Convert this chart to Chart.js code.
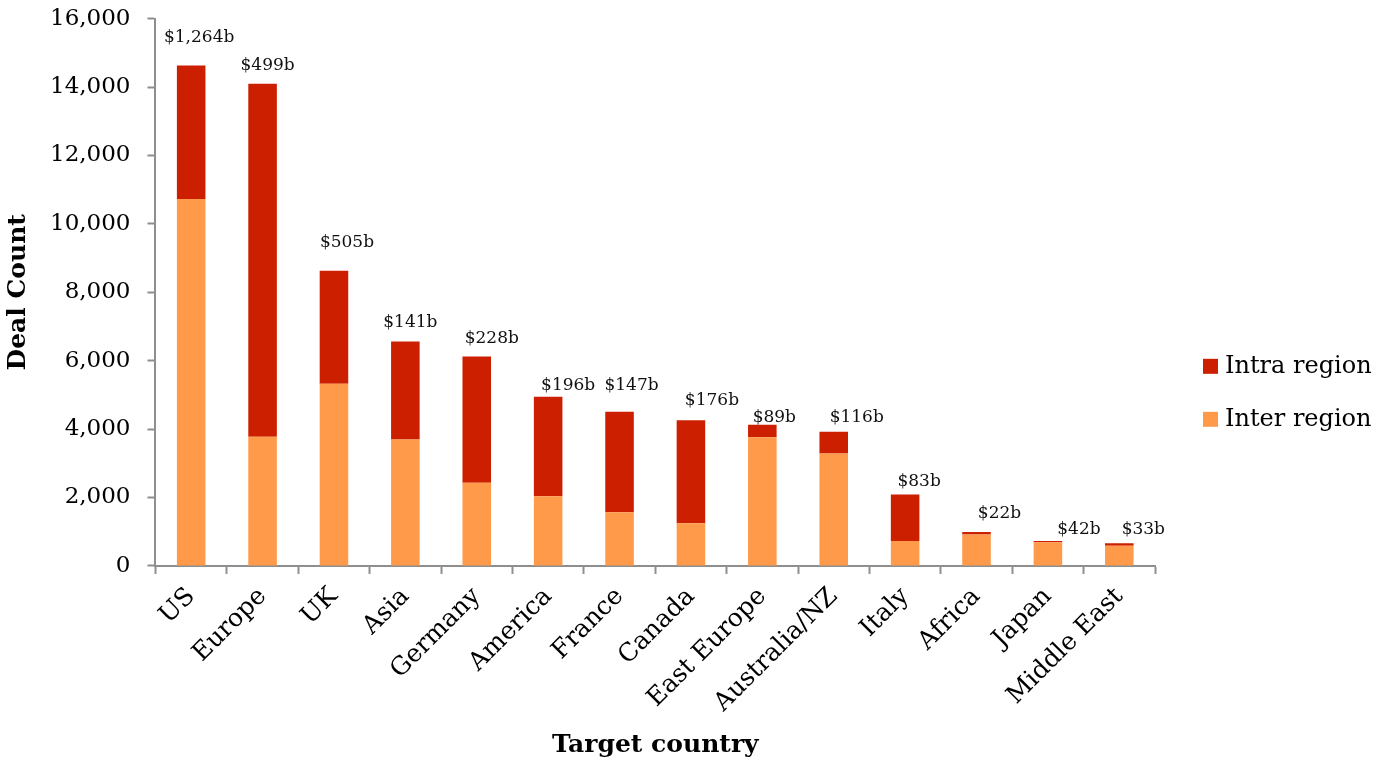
<!DOCTYPE html>
<html>
<head>
<meta charset="utf-8">
<title>Deal count by target country</title>
<script src="https://cdn.jsdelivr.net/npm/chart.js@4.4.1/dist/chart.umd.min.js"></script>
<style>
  html, body { margin: 0; padding: 0; background: #fff; }
  #wrap { width: 1375px; height: 760px; position: relative; }
</style>
</head>
<body>
<div id="wrap"><canvas id="dealChart"></canvas></div>
<script>
// deal counts per target country, split by inter / intra region
const countries = ['US', 'Europe', 'UK', 'Asia', 'Germany', 'America', 'France', 'Canada',
                   'East Europe', 'Australia/NZ', 'Italy', 'Africa', 'Japan', 'Middle East'];
const interRegion = [10730, 3780, 5330, 3700, 2430, 2040, 1570, 1250, 3760, 3290, 730, 920, 690, 590];
const intraRegion = [3900, 10320, 3300, 2860, 3690, 2910, 2940, 3010, 370, 630, 1360, 70, 40, 70];
const dealValues = ['$1,264b', '$499b', '$505b', '$141b', '$228b', '$196b', '$147b', '$176b',
                    '$89b', '$116b', '$83b', '$22b', '$42b', '$33b'];
const yTicks = [0, 2000, 4000, 6000, 8000, 10000, 12000, 14000, 16000];

// hand placement of the value labels above each bar (px)
const labelShift = [8, 5, 13, 5, 15, 20, 12, 21, 12, 23, 14, 23, 31, 24];
const labelGap = [24, 14, 24, 15, 14, 7, 22, 15, 3, 10, 8, 14, 7, 9];

const FONT = "'DejaVu Serif', 'Liberation Serif', serif";
const axisGrey = '#8e8e8e';

const valueLabels = {
    id: 'valueLabels',
    afterDatasetsDraw(chart) {
        const ctx = chart.ctx;
        const top = chart.getDatasetMeta(1).data;
        ctx.save();
        ctx.font = '17px ' + FONT;
        ctx.fillStyle = '#111';
        ctx.textAlign = 'center';
        ctx.textBaseline = 'alphabetic';
        top.forEach((bar, i) => {
            ctx.fillText(dealValues[i], bar.x + labelShift[i], bar.y - labelGap[i]);
        });
        ctx.restore();
    }
};

// legend to the right of the plot, top dataset listed first
const sideLegend = {
    id: 'sideLegend',
    afterDraw(chart) {
        const ctx = chart.ctx;
        const area = chart.chartArea;
        const x = area.right + 48;
        const mid = (area.top + area.bottom) / 2 + 101;
        const items = chart.data.datasets.slice().reverse();
        ctx.save();
        ctx.font = '24px ' + FONT;
        ctx.textBaseline = 'middle';
        ctx.textAlign = 'left';
        items.forEach((ds, i) => {
            const y = mid + (i - 0.5) * 53;
            ctx.fillStyle = ds.backgroundColor;
            ctx.fillRect(x, y - 8, 15, 15);
            ctx.fillStyle = '#000';
            ctx.fillText(ds.label, x + 22, y);
        });
        ctx.restore();
    }
};

new Chart(document.getElementById('dealChart'), {
    type: 'bar',
    data: {
        labels: countries,
        datasets: [
            { label: 'Inter region', data: interRegion, backgroundColor: '#ff9a4a', stack: 's' },
            { label: 'Intra region', data: intraRegion, backgroundColor: '#cc1f00', stack: 's' }
        ]
    },
    options: {
        responsive: true,
        maintainAspectRatio: false,
        animation: false,
        layout: { padding: { top: 0, left: 3, right: 220, bottom: 0 } },
        datasets: { bar: { categoryPercentage: 1, barPercentage: 0.4 } },
        scales: {
            x: {
                stacked: true,
                grid: { display: true, drawOnChartArea: false, drawTicks: true, tickLength: 8,
                        tickWidth: 2, color: axisGrey, offset: true },
                border: { display: true, color: axisGrey, width: 2 },
                ticks: { color: '#000', font: { family: FONT, size: 25 }, maxRotation: 45, minRotation: 45, padding: 8 },
                title: { display: true, text: 'Target country', color: '#000',
                         font: { family: FONT, size: 25, weight: 'bold' }, padding: { top: 4, bottom: 0 } }
            },
            y: {
                stacked: true,
                min: 0,
                max: 16000,
                afterBuildTicks(axis) { axis.ticks = yTicks.map(v => ({ value: v })); },
                grid: { display: true, drawOnChartArea: false, drawTicks: true, tickLength: 8,
                        tickWidth: 2, color: axisGrey },
                border: { display: true, color: axisGrey, width: 2 },
                ticks: { color: '#000', font: { family: FONT, size: 23, lineHeight: 0.15 }, padding: 17 },
                title: { display: true, text: 'Deal Count', color: '#000',
                         font: { family: FONT, size: 25, weight: 'bold' }, padding: { top: 0, bottom: 0 } }
            }
        },
        plugins: {
            legend: { display: false },
            tooltip: { enabled: false }
        }
    },
    plugins: [valueLabels, sideLegend]
});
</script>
</body>
</html>
